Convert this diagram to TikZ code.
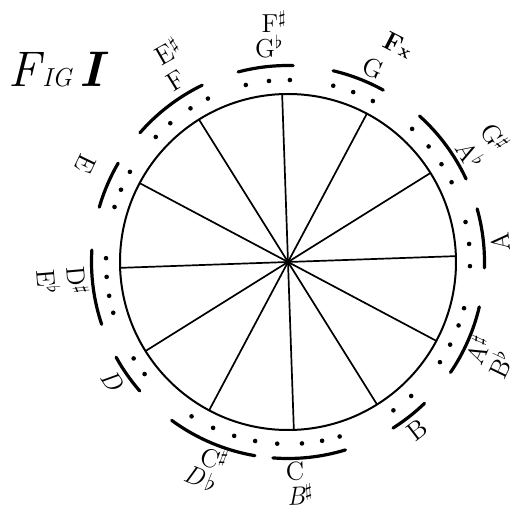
\documentclass[tikz,border=0pt]{standalone}
\usepackage{tikz}
\begin{document}
\begin{tikzpicture}[x=0.5pt,y=0.5pt]
  \def\rad{168}
  \def\barrad{196.5}
  \def\pinrad{182}
  \tikzset{
    rim/.style={line width=1pt},
    spoke/.style={line width=0.85pt},
    notebar/.style={line width=1.6pt, line cap=round},
    notename/.style={font=\fontsize{13}{13}\selectfont, inner sep=0pt},
  }
  \useasboundingbox (-288,-246) rectangle (226,262);

  %--- title ---
  \node[anchor=base west, inner sep=0pt] (figtitle) at (-280,175)
    {\fontsize{25}{25}\selectfont\itshape F\kern1pt{\fontsize{13}{13}\selectfont IG}\kern4pt{\bfseries I}};

  %--- circle and twelve spokes ---
  \coordinate (O) at (0,0);
  \draw[rim] (O) circle (\rad);
  \foreach \a in {92,62,...,-238}
    \draw[spoke] (O) -- (\a:\rad);

  %--- bars outside the rim (start/end angle) ---
  \foreach \s/\e in {88.5/104.7, 61/76.7, 25/48, -1.7/15.7, -34.2/-13.2,
                     -57.7/-46, -94.4/-73, -126.3/-99.7, -151/-139,
                     176.5/198.5, 149.8/163.8, 115.9/138.9}
    \draw[notebar] (\s:\barrad) arc[start angle=\s, end angle=\e, radius=\barrad];

  %--- dots between rim and bars ---
  \foreach \a in {89.4,96,103.4, 62.2,69,75.6, 26,32.5,39.4,47, -1.3,5.7,12.7,
                  -33.4,-27,-20.4,-14.7, -54.6,-47.4, -93.4,-85.6,-79.2,-73.5,
                  -122,-114.3,-107.2,-100.4, -148,-142, 178.8,184.7,190.7,196.2,
                  150.3,156.6,162.4, 116.1,122.4,130.3,136.6}
    \fill (\a:\pinrad) circle (2.3);

  %--- note names (angle/radius/rotation/text) ---
  \foreach \a/\r/\rot/\txt [count=\i] in {
      93.3/241/0/{F$^\sharp$}, 95/216.5/0/{G$^\flat$},
      66.3/211.8/-23.7/{G}, 63/243/-27/{\bfseries F{\small x}},
      30.5/212/-59.5/{A$^\flat$}, 31.1/242/-59/{G$^\sharp$},
      5.4/213/95.4/{A},
      -24.7/209/65.3/{A$^\sharp$}, -25.7/235/64.3/{B$^\flat$},
      -52.5/212/37.5/{B},
      -88.1/209.5/1.9/{C}, -87/233/3/{\itshape B$^\sharp$},
      -110.6/210/-20.6/{C$^\sharp$}, -112/233.5/-22/{\itshape D$\,\flat$},
      -146/212.5/-56/{\itshape D},
      185.1/211/-84.9/{D$^\sharp$}, 184.8/240/-85.2/{E$^\flat$},
      154.1/224.5/-115.9/{E},
      121.6/213/31.6/{F}, 119.7/243/29.7/{E$^\sharp$}}
    \node[notename, rotate=\rot] (note\i) at (\a:\r) {\txt};

\end{tikzpicture}
\end{document}
